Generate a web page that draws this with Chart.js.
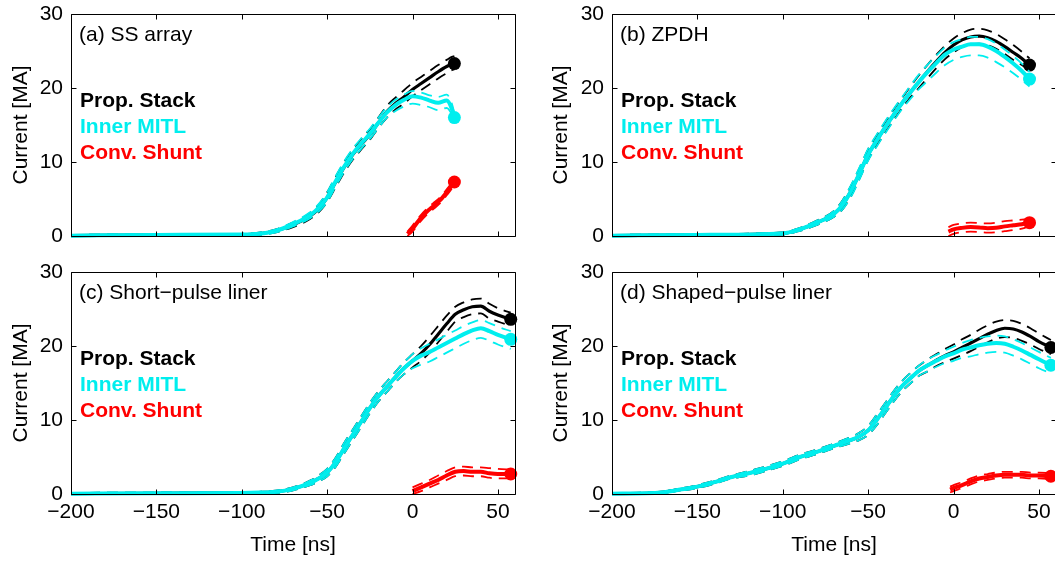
<!DOCTYPE html>
<html>
<head>
<meta charset="utf-8">
<script src="https://cdn.jsdelivr.net/npm/chart.js@4.4.0/dist/chart.umd.min.js"></script>
<style>
  html, body { margin: 0; padding: 0; background: #fff; }
  body { width: 1055px; height: 561px; overflow: hidden; position: relative; }
  canvas { position: absolute; }
</style>
</head>
<body>
<canvas id="pa" width="530" height="256" style="left:0;top:0"></canvas>
<canvas id="pb" width="530" height="256" style="left:540px;top:0"></canvas>
<canvas id="pc" width="530" height="305" style="left:0;top:256px"></canvas>
<canvas id="pd" width="530" height="305" style="left:540px;top:256px"></canvas>
<script>
// axes
var xTicks = [-200, -150, -100, -50, 0, 50];
var yTicks = [0, 10, 20, 30];
var seriesNames = ['Prop. Stack', 'Inner MITL', 'Conv. Shunt'];
var seriesColors = ['#000000', '#00eeee', '#ff0000'];

// (a) SS array
var xA = [-200,-150,-100,-90,-80,-70,-60,-55,-50,-45,-40,-35,-30,-25,-20,-15,-10,-5,0,5,10,15,20,23,24.5];
var stackA   = [0.05,0.15,0.2,0.3,0.7,1.5,2.7,3.7,5.2,7.3,9.3,11.0,12.4,13.7,15.3,16.8,17.9,18.8,19.8,20.6,21.4,22.2,22.9,23.2,23.3];
var stackHiA = [0.15,0.25,0.3,0.45,0.9,1.8,3.1,4.2,5.9,8.0,10.0,11.7,13.1,14.4,16.0,17.6,18.7,19.7,20.7,21.5,22.3,23.1,23.8,24.2,24.3];
var stackLoA = [0.0,0.05,0.1,0.15,0.5,1.2,2.3,3.2,4.6,6.6,8.6,10.3,11.7,13.0,14.6,16.0,17.1,17.9,18.9,19.7,20.5,21.3,22.0,22.4,22.5];
var mitlA    = [0.05,0.15,0.2,0.3,0.7,1.6,2.8,3.8,5.2,7.4,9.4,11.1,12.5,13.8,15.3,16.7,17.7,18.4,18.9,18.7,18.3,18.0,18.3,17.2,16.0];
var mitlHiA  = [0.15,0.25,0.3,0.45,0.9,1.9,3.2,4.3,5.9,8.1,10.1,11.8,13.2,14.5,16.0,17.4,18.4,19.1,19.6,19.4,19.0,18.8,19.1,17.9,16.6];
var mitlLoA  = [0.0,0.05,0.1,0.15,0.5,1.3,2.4,3.3,4.6,6.7,8.7,10.4,11.8,13.1,14.6,16.0,16.9,17.5,17.9,17.7,17.4,17.0,17.3,16.4,15.4];
var xRedA    = [-3,0,4,8,12,16,20,23,24.5];
var shuntA   = [0.3,1.0,2.2,3.2,4.0,4.8,5.9,6.8,7.3];
var shuntHiA = [0.6,1.4,2.6,3.6,4.4,5.2,6.3,7.2,7.6];
var shuntLoA = [0.0,0.6,1.8,2.8,3.6,4.4,5.5,6.4,7.0];

// (b) ZPDH
var xB = [-200,-150,-100,-90,-80,-70,-65,-60,-55,-50,-45,-40,-35,-30,-25,-20,-15,-10,-5,0,5,10,15,20,25,30,35,40,44.5];
var stackB   = [0.05,0.15,0.35,0.9,1.8,3.0,4.2,6.1,8.5,11.0,12.9,14.7,16.4,18.0,19.5,20.9,22.3,23.6,24.8,25.8,26.5,26.9,27.0,26.8,26.3,25.6,24.8,24.0,23.1];
var stackHiB = [0.15,0.25,0.5,1.1,2.1,3.4,4.8,6.8,9.2,11.7,13.6,15.4,17.1,18.7,20.3,21.8,23.2,24.5,25.7,26.7,27.4,27.9,28.0,27.8,27.3,26.6,25.8,24.9,24.0];
var stackLoB = [0.0,0.05,0.2,0.7,1.5,2.6,3.6,5.4,7.8,10.3,12.2,14.0,15.7,17.3,18.8,20.1,21.4,22.7,23.9,24.8,25.5,25.9,26.0,25.8,25.3,24.6,23.8,23.1,22.3];
var mitlB    = [0.05,0.15,0.35,0.9,1.8,3.0,4.2,6.1,8.5,11.0,12.9,14.7,16.4,18.0,19.5,20.9,22.2,23.4,24.5,25.2,25.6,25.9,25.9,25.6,25.0,24.2,23.3,22.3,21.2];
var mitlHiB  = [0.15,0.25,0.5,1.1,2.1,3.4,4.8,6.9,9.3,11.8,13.7,15.5,17.2,18.8,20.4,21.9,23.2,24.4,25.5,26.2,26.6,26.9,26.9,26.6,26.0,25.2,24.3,23.3,22.2];
var mitlLoB  = [0.0,0.05,0.2,0.7,1.5,2.6,3.6,5.3,7.7,10.2,12.1,13.9,15.6,17.2,18.6,19.9,21.0,22.1,23.1,23.8,24.2,24.4,24.4,24.1,23.5,22.8,22.0,21.1,20.2];
var xRedB    = [-3,0,5,10,15,20,25,30,35,40,44.5];
var shuntB   = [0.6,0.9,1.1,1.2,1.15,1.05,1.1,1.3,1.45,1.6,1.8];
var shuntHiB = [1.2,1.5,1.7,1.8,1.75,1.7,1.8,2.0,2.1,2.2,2.3];
var shuntLoB = [0.0,0.3,0.5,0.6,0.55,0.45,0.5,0.65,0.8,1.0,1.3];

// (c) Short-pulse liner
var xC = [-200,-150,-100,-90,-80,-70,-60,-55,-50,-45,-40,-35,-30,-25,-20,-15,-10,-5,0,5,10,15,20,25,30,35,40,45,50,57.5];
var stackC   = [0.05,0.1,0.15,0.2,0.3,0.7,1.5,2.1,2.9,4.3,6.2,8.0,9.8,11.6,13.2,14.5,15.8,17.0,18.0,19.0,20.2,21.6,23.0,24.3,24.9,25.3,25.4,24.7,24.2,23.6];
var stackHiC = [0.15,0.2,0.25,0.3,0.45,0.9,1.8,2.5,3.4,4.9,6.9,8.7,10.5,12.3,13.9,15.2,16.5,17.8,18.9,20.0,21.3,22.7,24.1,25.3,25.9,26.3,26.4,25.7,25.1,24.5];
var stackLoC = [0.0,0.05,0.05,0.1,0.15,0.5,1.2,1.7,2.4,3.7,5.5,7.3,9.1,10.9,12.5,13.8,15.1,16.2,17.1,18.0,19.1,20.5,21.9,23.3,23.9,24.3,24.4,23.7,23.3,22.7];
var mitlC    = [0.05,0.1,0.15,0.2,0.3,0.7,1.5,2.1,2.9,4.3,6.2,8.0,9.8,11.6,13.2,14.5,15.8,17.0,18.0,18.7,19.2,19.8,20.4,21.0,21.6,22.1,22.4,22.0,21.5,20.9];
var mitlHiC  = [0.15,0.2,0.25,0.3,0.45,0.9,1.8,2.5,3.4,4.9,6.9,8.7,10.5,12.3,13.9,15.2,16.5,17.8,18.9,19.7,20.3,20.9,21.5,22.1,22.7,23.2,23.5,23.1,22.6,22.0];
var mitlLoC  = [0.0,0.05,0.05,0.1,0.15,0.5,1.2,1.7,2.4,3.7,5.5,7.3,9.1,10.9,12.5,13.8,15.1,16.2,17.0,17.5,17.9,18.5,19.1,19.7,20.3,20.8,21.1,20.7,20.2,19.6];
var xRedC    = [0,5,10,15,20,25,30,35,40,45,50,57.5];
var shuntC   = [0.4,0.9,1.4,1.9,2.5,3.0,3.1,3.0,3.0,2.8,2.7,2.7];
var shuntHiC = [0.9,1.4,1.9,2.5,3.1,3.6,3.7,3.6,3.6,3.5,3.4,3.3];
var shuntLoC = [0.0,0.4,0.9,1.4,1.9,2.4,2.5,2.4,2.4,2.2,2.1,2.1];

// (d) Shaped-pulse liner
var xD = [-200,-180,-170,-160,-150,-140,-130,-120,-110,-100,-90,-80,-70,-60,-55,-50,-45,-40,-35,-30,-25,-20,-15,-10,-5,0,5,10,15,20,25,30,35,40,45,50,57];
var stackD   = [0.05,0.1,0.25,0.6,1.0,1.6,2.3,2.8,3.4,4.1,5.0,5.7,6.5,7.3,7.8,8.6,10.0,11.6,13.2,14.6,15.7,16.7,17.4,18.1,18.7,19.2,19.8,20.4,21.0,21.6,22.1,22.4,22.3,21.9,21.3,20.6,19.8];
var stackHiD = [0.15,0.2,0.35,0.75,1.2,1.8,2.5,3.1,3.7,4.4,5.3,6.0,6.8,7.7,8.3,9.2,10.7,12.3,13.9,15.3,16.4,17.4,18.2,18.9,19.6,20.2,20.9,21.5,22.2,22.8,23.3,23.5,23.4,23.0,22.4,21.7,20.8];
var stackLoD = [0.0,0.05,0.15,0.45,0.8,1.4,2.1,2.5,3.1,3.8,4.7,5.4,6.2,6.9,7.3,8.0,9.3,10.9,12.5,13.9,15.0,16.0,16.6,17.3,17.8,18.3,18.8,19.3,19.9,20.5,21.0,21.2,21.1,20.7,20.2,19.6,18.9];
var mitlD    = [0.05,0.1,0.25,0.6,1.0,1.6,2.3,2.8,3.4,4.1,5.0,5.7,6.5,7.3,7.8,8.6,10.0,11.6,13.2,14.6,15.7,16.7,17.4,18.0,18.6,19.0,19.5,19.8,20.1,20.3,20.4,20.3,19.9,19.4,18.8,18.2,17.4];
var mitlHiD  = [0.15,0.2,0.35,0.75,1.2,1.8,2.5,3.1,3.7,4.4,5.3,6.0,6.8,7.7,8.3,9.2,10.7,12.3,13.9,15.3,16.4,17.4,18.2,18.8,19.4,19.9,20.4,20.8,21.1,21.3,21.4,21.3,20.9,20.4,19.8,19.2,18.4];
var mitlLoD  = [0.0,0.05,0.15,0.45,0.8,1.4,2.1,2.5,3.1,3.8,4.7,5.4,6.2,6.9,7.3,8.0,9.3,10.9,12.5,13.9,15.0,16.0,16.6,17.2,17.7,18.0,18.4,18.6,18.9,19.1,19.2,19.1,18.7,18.2,17.6,17.0,16.3];
var xRedD    = [-2,0,5,10,15,20,25,30,35,40,45,50,57];
var shuntD   = [0.6,0.8,1.2,1.7,2.1,2.3,2.5,2.6,2.6,2.6,2.5,2.5,2.4];
var shuntHiD = [1.0,1.2,1.6,2.1,2.5,2.7,2.9,3.0,3.0,3.0,2.9,2.9,2.8];
var shuntLoD = [0.2,0.4,0.8,1.3,1.7,1.9,2.1,2.2,2.2,2.2,2.1,2.1,2.0];

var FONT = "'Liberation Sans', Arial, Helvetica, sans-serif";

function pts(xs, ys) {
    return xs.map(function(x, i) { return {x: x, y: ys[i]}; });
}

function lastDot(c) {
    return c.dataIndex === c.dataset.data.length - 1 ? 6.5 : 0;
}

function line(data, color, width, dashed, order, dot) {
    return {
        data: data,
        borderColor: color,
        backgroundColor: color,
        pointBackgroundColor: color,
        borderWidth: width,
        borderDash: dashed ? [11, 7] : [],
        order: order,
        fill: false,
        cubicInterpolationMode: 'monotone',
        pointRadius: dot ? lastDot : 0,
        pointHoverRadius: 0,
        pointBorderWidth: 0,
        clip: false
    };
}

// box, inward ticks on all sides and the text labels
var framePlugin = {
    id: 'frame',
    afterDatasetsDraw: function(chart, args, opts) {
        var ctx = chart.ctx, a = chart.chartArea;
        var sx = chart.scales.x, sy = chart.scales.y;
        var L = Math.round(a.left) + 0.5, R = Math.round(a.right) + 0.5;
        var T = Math.round(a.top) + 0.5, B = Math.round(a.bottom) + 0.5;
        ctx.save();
        ctx.strokeStyle = '#000';
        ctx.lineWidth = 1;
        ctx.beginPath();
        ctx.rect(L, T, R - L, B - T);
        xTicks.forEach(function(v) {
            var p = Math.round(sx.getPixelForValue(v)) + 0.5;
            ctx.moveTo(p, B); ctx.lineTo(p, B - 5);
            ctx.moveTo(p, T); ctx.lineTo(p, T + 5);
        });
        yTicks.forEach(function(v) {
            var p = Math.round(sy.getPixelForValue(v)) + 0.5;
            ctx.moveTo(L, p); ctx.lineTo(L + 5, p);
            ctx.moveTo(R, p); ctx.lineTo(R - 5, p);
        });
        ctx.stroke();

        ctx.textBaseline = 'alphabetic';
        ctx.textAlign = 'left';
        ctx.fillStyle = '#000';
        ctx.font = '21px ' + FONT;
        ctx.fillText(opts.label, a.left + 8, a.top + 27);
        ctx.font = 'bold 21px ' + FONT;
        seriesNames.forEach(function(n, i) {
            ctx.fillStyle = seriesColors[i];
            ctx.fillText(n, a.left + 9, a.top + 93 + 26 * i);
        });
        ctx.restore();
    }
};

function panel(id, p) {
    var bottomRow = p.bottom;
    var datasets = [
        line(pts(p.x, p.stack), seriesColors[0], 3.2, false, 6, true),
        line(pts(p.x, p.stackHi), seriesColors[0], 1.8, true, 5, false),
        line(pts(p.x, p.stackLo), seriesColors[0], 1.8, true, 5, false),
        line(pts(p.x, p.mitl), seriesColors[1], 4, false, 4, true),
        line(pts(p.x, p.mitlHi), seriesColors[1], 1.8, true, 3, false),
        line(pts(p.x, p.mitlLo), seriesColors[1], 1.8, true, 3, false),
        line(pts(p.xr, p.shuntHi), seriesColors[2], 1.8, true, 2, false),
        line(pts(p.xr, p.shuntLo), seriesColors[2], 1.8, true, 2, false),
        line(pts(p.xr, p.shunt), seriesColors[2], 4, false, 1, true)
    ];
    return new Chart(document.getElementById(id), {
        type: 'line',
        data: { datasets: datasets },
        plugins: [framePlugin],
        options: {
            responsive: false,
            animation: false,
            devicePixelRatio: 1,
            events: [],
            layout: { padding: { left: 0, top: bottomRow ? 16 : 14, right: p.padRight, bottom: 0 } },
            plugins: {
                legend: { display: false },
                tooltip: { enabled: false },
                frame: { label: p.label }
            },
            scales: {
                x: {
                    type: 'linear',
                    min: -200,
                    max: 60,
                    afterBuildTicks: function(s) { s.ticks = xTicks.map(function(v) { return {value: v}; }); },
                    afterFit: function(s) { s.height = bottomRow ? 67 : 20; },
                    grid: { display: false, drawTicks: false },
                    border: { display: false },
                    ticks: {
                        display: bottomRow,
                        color: '#000',
                        font: { family: FONT, size: 21 },
                        padding: 6,
                        maxRotation: 0,
                        autoSkip: false,
                        callback: function(v) { return v < 0 ? '\u2212' + Math.abs(v) : String(v); }
                    },
                    title: {
                        display: bottomRow,
                        text: 'Time [ns]',
                        color: '#000',
                        font: { family: FONT, size: 21 },
                        padding: { top: 0, bottom: 3 }
                    }
                },
                y: {
                    type: 'linear',
                    min: 0,
                    max: 30,
                    afterBuildTicks: function(s) { s.ticks = yTicks.map(function(v) { return {value: v}; }); },
                    afterFit: function(s) { s.width = p.axisWidth; },
                    // tick marks are drawn by the frame plugin; tickLength only sets the label gap
                    grid: { display: false, drawTicks: true, tickLength: 8 },
                    border: { display: false },
                    ticks: { color: '#000', font: { family: FONT, size: 21 }, padding: 0 },
                    title: {
                        display: true,
                        text: 'Current [MA]',
                        color: '#000',
                        font: { family: FONT, size: 21 },
                        padding: { top: 9, bottom: 0 }
                    }
                }
            }
        }
    });
}

panel('pa', { label: '(a) SS array', bottom: false, axisWidth: 71, padRight: 15,
    x: xA, stack: stackA, stackHi: stackHiA, stackLo: stackLoA, mitl: mitlA, mitlHi: mitlHiA, mitlLo: mitlLoA,
    xr: xRedA, shunt: shuntA, shuntHi: shuntHiA, shuntLo: shuntLoA });
panel('pb', { label: '(b) ZPDH', bottom: false, axisWidth: 72, padRight: 14,
    x: xB, stack: stackB, stackHi: stackHiB, stackLo: stackLoB, mitl: mitlB, mitlHi: mitlHiB, mitlLo: mitlLoB,
    xr: xRedB, shunt: shuntB, shuntHi: shuntHiB, shuntLo: shuntLoB });
panel('pc', { label: '(c) Short\u2212pulse liner', bottom: true, axisWidth: 71, padRight: 15,
    x: xC, stack: stackC, stackHi: stackHiC, stackLo: stackLoC, mitl: mitlC, mitlHi: mitlHiC, mitlLo: mitlLoC,
    xr: xRedC, shunt: shuntC, shuntHi: shuntHiC, shuntLo: shuntLoC });
panel('pd', { label: '(d) Shaped\u2212pulse liner', bottom: true, axisWidth: 72, padRight: 14,
    x: xD, stack: stackD, stackHi: stackHiD, stackLo: stackLoD, mitl: mitlD, mitlHi: mitlHiD, mitlLo: mitlLoD,
    xr: xRedD, shunt: shuntD, shuntHi: shuntHiD, shuntLo: shuntLoD });
</script>
</body>
</html>
